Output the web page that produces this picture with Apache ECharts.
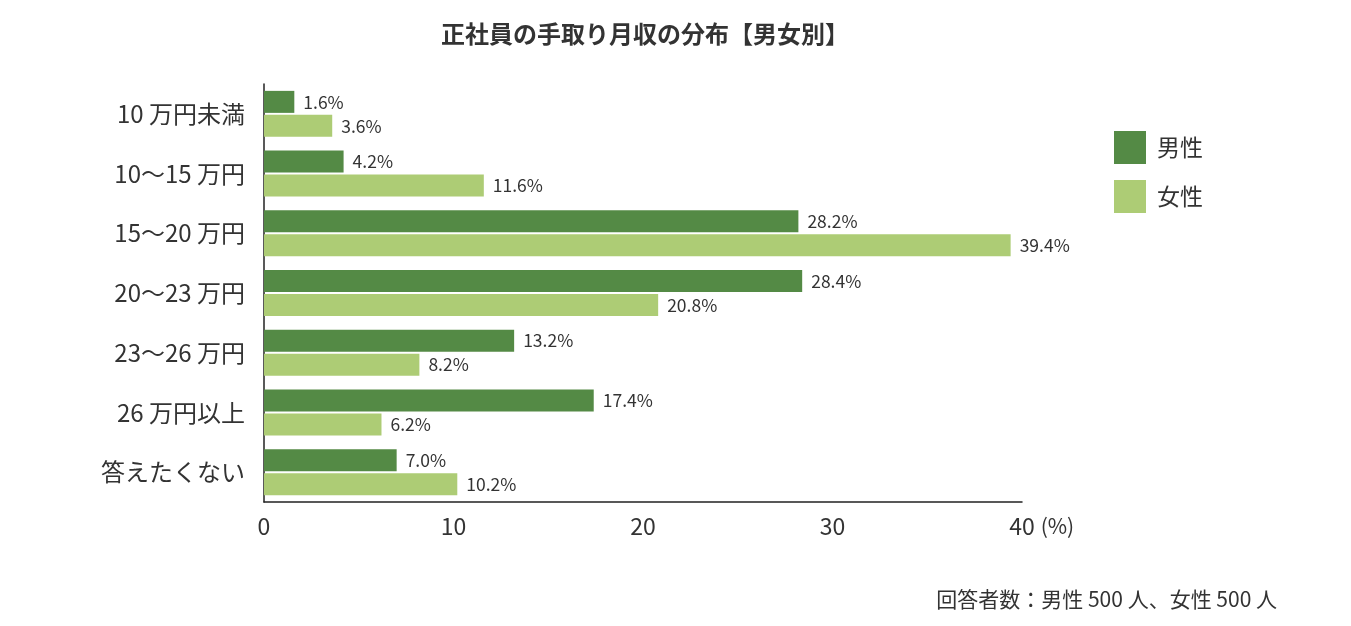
<!DOCTYPE html>
<html>
<head>
<meta charset="utf-8">
<script src="https://cdn.jsdelivr.net/npm/echarts@6/dist/echarts.min.js"></script>
<style>
  html, body { margin: 0; padding: 0; background: #fff; }
  #chart { width: 1351px; height: 626px; }
</style>
</head>
<body>
<div id="chart"></div>
<script>
// 所得区分
const categories = ["10 万円未満", "10〜15 万円", "15〜20 万円", "20〜23 万円", "23〜26 万円", "26 万円以上", "答えたくない"];
// 男性 / 女性 (%)
const maleValues = [1.6, 4.2, 28.2, 28.4, 13.2, 17.4, 7.0];
const femaleValues = [3.6, 11.6, 39.4, 20.8, 8.2, 6.2, 10.2];
const xTicks = [0, 10, 20, 30, 40];

const font = "'Noto Sans CJK JP', 'Noto Sans', sans-serif";
const textColor = "#333333";

var myChart = echarts.init(document.getElementById("chart"));
let option = {
  textStyle: { fontFamily: font },
  title: [
    {
      text: "正社員の手取り月収の分布【男女別】",
      left: 640,
      top: 17,
      textAlign: "center",
      textStyle: { fontSize: 24, fontWeight: "bold", color: textColor, fontFamily: font }
    },
    {
      text: "回答者数：男性 500 人、女性 500 人",
      right: 69,
      top: 584,
      textStyle: { fontSize: 21, fontWeight: "normal", color: textColor, fontFamily: font }
    }
  ],
  legend: {
    orient: "vertical",
    left: 1114,
    top: 131,
    padding: 0,
    itemWidth: 32,
    itemHeight: 33,
    itemGap: 16,
    icon: "rect",
    textStyle: { fontSize: 23, color: textColor, fontFamily: font, padding: [0, 0, 0, 6] },
    data: ["男性", "女性"]
  },
  grid: {
    left: 264,
    right: 329,
    top: 84,
    bottom: 124
  },
  xAxis: {
    type: "value",
    min: xTicks[0],
    max: xTicks[xTicks.length - 1],
    interval: 10,
    name: "(%)",
    nameLocation: "end",
    nameGap: 12,
    nameTextStyle: { fontSize: 21, color: textColor, fontFamily: font, verticalAlign: "top", padding: [14, 0, 0, 0] },
    axisLine: { show: true, lineStyle: { color: "#222", width: 1.5 } },
    axisTick: { show: false },
    splitLine: { show: false },
    axisLabel: { fontSize: 23, color: textColor, margin: 13, fontFamily: font }
  },
  yAxis: {
    type: "category",
    inverse: true,
    data: categories,
    axisLine: { show: true, lineStyle: { color: "#222", width: 1.5 } },
    axisTick: { show: false },
    axisLabel: { fontSize: 24, color: textColor, margin: 19, fontFamily: font }
  },
  series: [
    {
      name: "男性",
      type: "bar",
      data: maleValues,
      barWidth: 22,
      barGap: "9%",
      itemStyle: { color: "#548a45" },
      label: {
        show: true,
        position: "right",
        distance: 9,
        fontSize: 17.5,
        color: textColor,
        fontFamily: font,
        formatter: function (p) { return p.value.toFixed(1) + "%"; }
      }
    },
    {
      name: "女性",
      type: "bar",
      data: femaleValues,
      barWidth: 22,
      itemStyle: { color: "#adcc75" },
      label: {
        show: true,
        position: "right",
        distance: 9,
        fontSize: 17.5,
        color: textColor,
        fontFamily: font,
        formatter: function (p) { return p.value.toFixed(1) + "%"; }
      }
    }
  ]
};
myChart.setOption(option);
</script>
</body>
</html>
